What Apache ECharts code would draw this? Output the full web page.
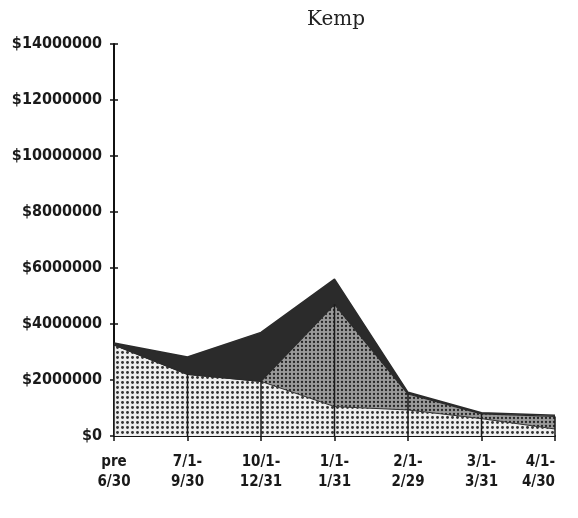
<!DOCTYPE html>
<html>
<head>
<meta charset="utf-8">
<script src="https://cdn.jsdelivr.net/npm/echarts@6/dist/echarts.min.js"></script>
<style>
html,body{margin:0;padding:0;background:#fff;}
#chart{width:578px;height:518px;}
</style>
</head>
<body>
<div id="chart"></div>
<script>
// ---- data ----
const categories = ['pre\n6/30', '7/1-\n9/30', '10/1-\n12/31', '1/1-\n1/31', '2/1-\n2/29', '3/1-\n3/31', '4/1-\n4/30'];
const lightSeries = [3250000, 2200000, 1950000, 1050000, 930000, 620000, 250000];
const mediumSeries = [0, 0, 0, 3650000, 570000, 170000, 450000];
const darkSeries = [70000, 620000, 1750000, 900000, 60000, 40000, 40000];
const yTicks = { min: 0, max: 14000000, interval: 2000000 };
const titleText = 'Kemp';

// ---- patterns (style only) ----
function dotPattern(size, bg, dot, r) {
  const c = document.createElement('canvas');
  c.width = size; c.height = size;
  const g = c.getContext('2d');
  g.fillStyle = bg; g.fillRect(0, 0, size, size);
  g.fillStyle = dot;
  g.beginPath(); g.arc(size / 2, size / 2, r, 0, Math.PI * 2); g.fill();
  return { image: c, repeat: 'repeat' };
}
const lightFill = dotPattern(5, '#eeeeee', '#333333', 1.45);
const mediumFill = dotPattern(4, '#9a9a9a', '#262626', 1.15);
const darkFill = '#2b2b2b';

const dropTops = lightSeries.map((v, i) => [i, v + mediumSeries[i]]);

const labelFont = '"DejaVu Sans Condensed", "Liberation Sans Narrow", "DejaVu Sans", sans-serif';

const chart = echarts.init(document.getElementById('chart'), null, { renderer: 'canvas' });
chart.setOption({
  animation: false,
  backgroundColor: '#ffffff',
  title: {
    text: titleText,
    left: 331, top: 5,
    textAlign: 'center',
    textStyle: { fontFamily: '"DejaVu Serif", serif', fontWeight: 'normal', fontSize: 20, color: '#222' }
  },
  grid: { left: 114, right: 23, top: 44, bottom: 82 },
  xAxis: {
    type: 'category',
    boundaryGap: false,
    data: categories,
    axisLine: { lineStyle: { color: '#111', width: 2 } },
    axisTick: { show: true, length: 5, lineStyle: { color: '#111', width: 1.5 }, alignWithLabel: true },
    axisLabel: {
      margin: 16,
      fontFamily: labelFont,
      fontWeight: 'bold',
      fontSize: 15,
      lineHeight: 20,
      color: '#1a1a1a',
      interval: 0,
      alignMaxLabel: 'right'
    },
    splitLine: { show: false }
  },
  yAxis: [{
    type: 'value',
    min: yTicks.min, max: yTicks.max, interval: yTicks.interval,
    axisLine: { show: true, lineStyle: { color: '#111', width: 2 } },
    axisTick: { show: true, length: 4, lineStyle: { color: '#111', width: 1.5 } },
    axisLabel: {
      margin: 12,
      fontFamily: labelFont,
      fontWeight: 'bold',
      fontSize: 16,
      color: '#1a1a1a',
      formatter: v => '$' + v
    },
    splitLine: { show: false }
  }, {
    type: 'value',
    position: 'left',
    min: yTicks.min, max: yTicks.max, interval: yTicks.interval,
    axisLine: { show: false },
    axisTick: { show: true, inside: true, length: 4, lineStyle: { color: '#111', width: 1.5 } },
    axisLabel: { show: false },
    splitLine: { show: false }
  }],
  series: [
    {
      name: 'light', type: 'line', stack: 'total', data: lightSeries,
      symbol: 'none',
      lineStyle: { color: '#333', width: 1 },
      areaStyle: { color: lightFill, opacity: 1 },
      z: 2
    },
    {
      name: 'medium', type: 'line', stack: 'total', data: mediumSeries,
      symbol: 'none',
      lineStyle: { color: '#2a2a2a', width: 1.2 },
      areaStyle: { color: mediumFill, opacity: 1 },
      z: 2
    },
    {
      name: 'dark', type: 'line', stack: 'total', data: darkSeries,
      symbol: 'none',
      lineStyle: { color: '#2b2b2b', width: 1.5 },
      areaStyle: { color: darkFill, opacity: 1 },
      z: 2
    },
    {
      name: 'drops', type: 'custom',
      data: dropTops,
      z: 3,
      renderItem: function (params, api) {
        const p0 = api.coord([api.value(0), 0]);
        const p1 = api.coord([api.value(0), api.value(1)]);
        return {
          type: 'line',
          shape: { x1: p0[0], y1: p0[1], x2: p1[0], y2: p1[1] },
          style: { stroke: '#1a1a1a', lineWidth: 1.5 }
        };
      }
    }
  ]
});
</script>
</body>
</html>
